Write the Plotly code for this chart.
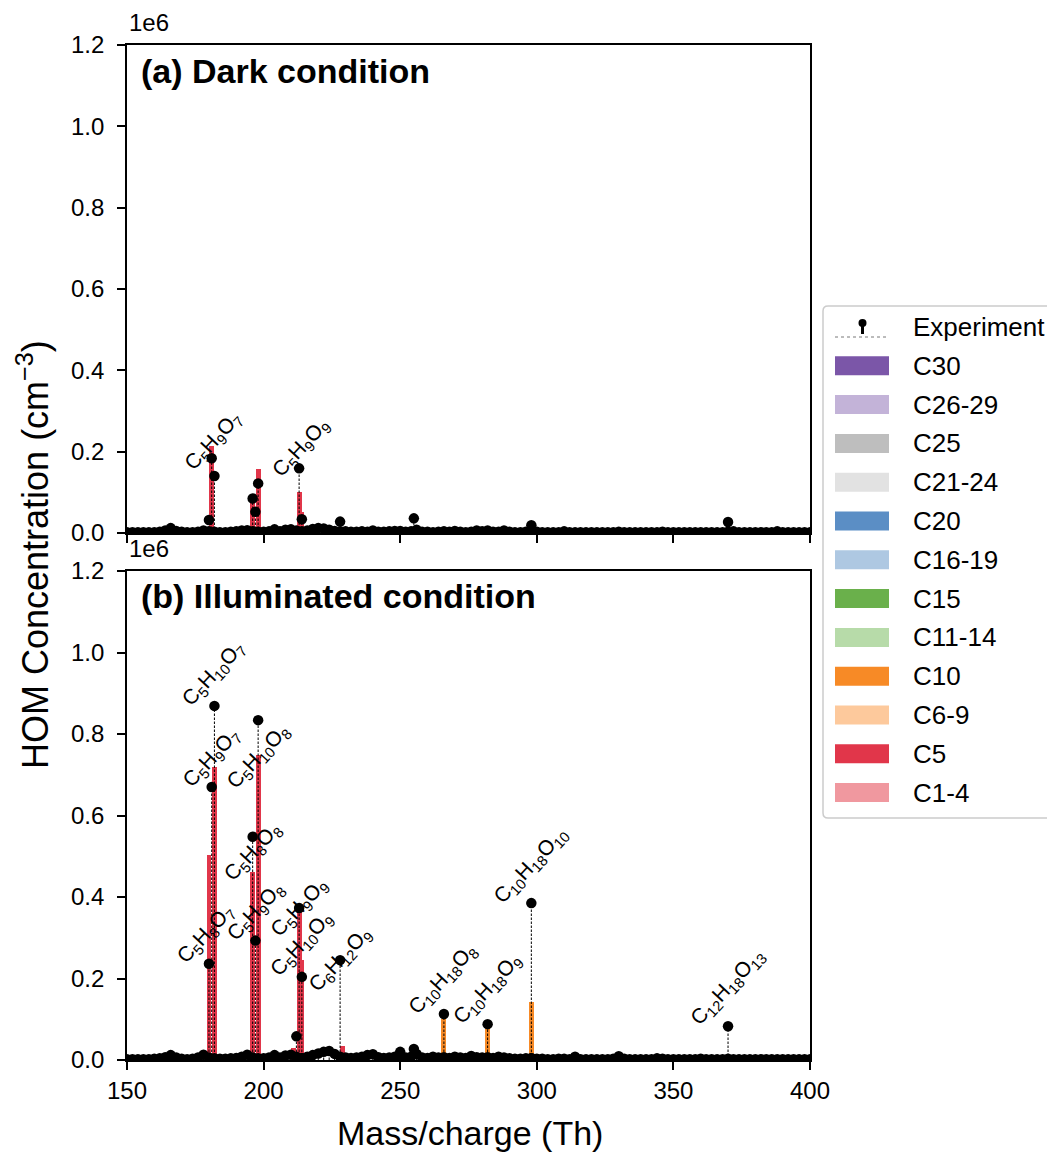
import plotly.graph_objects as go

# ---------------- data (concentrations in units of 1e6 cm^-3) ----------------
cat_names = ["C30", "C26-29", "C25", "C21-24", "C20", "C16-19", "C15",
             "C11-14", "C10", "C6-9", "C5", "C1-4"]
cat_colors = ["#7b56a8", "#c3b3d8", "#bebebe", "#e2e2e2", "#5b8ec5", "#aec8e2",
              "#6ab04b", "#b7dba9", "#f78a26", "#fdc99c", "#e1364a", "#f0989f"]

# model bars (per carbon class)
a_c5_mass = [181, 196, 198, 213, 214]
a_c5_val = [0.214, 0.088, 0.157, 0.100, 0.052]
b_c5_mass = [180, 182, 196, 198, 211, 213, 214, 216, 229]
b_c5_val = [0.503, 0.719, 0.462, 0.748, 0.030, 0.373, 0.245, 0.020, 0.035]
b_c10_mass = [266, 282, 298]
b_c10_val = [0.100, 0.075, 0.142]

# experiment: main peaks
a_pk_mass = [180, 181, 182, 196, 197, 198, 213, 214, 228, 255, 298, 370]
a_pk_val = [0.032, 0.184, 0.140, 0.085, 0.052, 0.122, 0.159, 0.034, 0.028, 0.036, 0.019, 0.027]
b_pk_mass = [180, 181, 182, 196, 197, 198, 212, 213, 214, 228, 250, 255, 266, 282, 298, 370]
b_pk_val = [0.236, 0.670, 0.869, 0.548, 0.293, 0.834, 0.058, 0.373, 0.204, 0.245, 0.020,
            0.027, 0.113, 0.088, 0.385, 0.083]

# experiment: background peaks
bg_mass = [150, 152, 154, 156, 158, 160, 162, 164, 166, 168,
           170, 172, 174, 176, 178, 180, 182, 184, 186, 188,
           190, 192, 194, 196, 198, 200, 202, 204, 206, 208,
           210, 212, 214, 216, 218, 220, 222, 224, 226, 228,
           230, 232, 234, 236, 238, 240, 242, 244, 246, 248,
           250, 252, 254, 256, 258, 260, 262, 264, 266, 268,
           270, 272, 274, 276, 278, 280, 282, 284, 286, 288,
           290, 292, 294, 296, 298, 300, 302, 304, 306, 308,
           310, 312, 314, 316, 318, 320, 322, 324, 326, 328,
           330, 332, 334, 336, 338, 340, 342, 344, 346, 348,
           350, 352, 354, 356, 358, 360, 362, 364, 366, 368,
           370, 372, 374, 376, 378, 380, 382, 384, 386, 388,
           390, 392, 394, 396, 398, 400]
a_bg_val = [0.002, 0.002, 0.002, 0.002, 0.002, 0.002, 0.003, 0.006, 0.012, 0.005,
            0.003, 0.002, 0.002, 0.003, 0.006, 0.004, 0.003, 0.002, 0.002, 0.003,
            0.004, 0.006, 0.007, 0.004, 0.003, 0.003, 0.004, 0.009, 0.004, 0.008,
            0.009, 0.006, 0.004, 0.006, 0.010, 0.012, 0.011, 0.008, 0.005, 0.004,
            0.004, 0.003, 0.003, 0.004, 0.003, 0.006, 0.003, 0.003, 0.004, 0.005,
            0.005, 0.003, 0.004, 0.008, 0.003, 0.003, 0.002, 0.003, 0.004, 0.003,
            0.005, 0.003, 0.002, 0.003, 0.006, 0.004, 0.006, 0.003, 0.003, 0.006,
            0.003, 0.002, 0.002, 0.003, 0.004, 0.003, 0.002, 0.002, 0.002, 0.002,
            0.004, 0.002, 0.002, 0.002, 0.002, 0.002, 0.002, 0.002, 0.002, 0.002,
            0.003, 0.002, 0.002, 0.002, 0.002, 0.002, 0.002, 0.002, 0.003, 0.002,
            0.002, 0.002, 0.002, 0.002, 0.002, 0.002, 0.002, 0.002, 0.002, 0.002,
            0.003, 0.004, 0.002, 0.002, 0.002, 0.002, 0.002, 0.002, 0.002, 0.004,
            0.002, 0.002, 0.002, 0.002, 0.002, 0.002]
b_bg_val = [0.002, 0.002, 0.002, 0.002, 0.002, 0.003, 0.004, 0.007, 0.012, 0.006,
            0.003, 0.002, 0.003, 0.006, 0.013, 0.006, 0.004, 0.003, 0.003, 0.004,
            0.005, 0.008, 0.013, 0.006, 0.004, 0.004, 0.006, 0.012, 0.006, 0.011,
            0.013, 0.008, 0.005, 0.008, 0.012, 0.016, 0.020, 0.022, 0.015, 0.008,
            0.006, 0.005, 0.006, 0.008, 0.012, 0.014, 0.007, 0.005, 0.006, 0.008,
            0.010, 0.006, 0.008, 0.015, 0.006, 0.005, 0.008, 0.006, 0.007, 0.005,
            0.008, 0.006, 0.005, 0.010, 0.007, 0.006, 0.007, 0.005, 0.008, 0.006,
            0.004, 0.003, 0.003, 0.004, 0.005, 0.003, 0.003, 0.002, 0.002, 0.003,
            0.003, 0.002, 0.008, 0.002, 0.002, 0.002, 0.002, 0.002, 0.002, 0.003,
            0.009, 0.003, 0.002, 0.002, 0.002, 0.002, 0.002, 0.004, 0.003, 0.002,
            0.002, 0.002, 0.002, 0.002, 0.002, 0.003, 0.002, 0.002, 0.002, 0.002,
            0.003, 0.002, 0.002, 0.002, 0.002, 0.002, 0.002, 0.002, 0.002, 0.002,
            0.002, 0.002, 0.002, 0.002, 0.002, 0.002]

# peak labels
a_lab_text = ["C<sub>5</sub>H<sub>9</sub>O<sub>7</sub>", "C<sub>5</sub>H<sub>9</sub>O<sub>9</sub>"]
a_lab_mass = [181, 213]
a_lab_val = [0.184, 0.159]
b_lab_text = ["C<sub>5</sub>H<sub>8</sub>O<sub>7</sub>", "C<sub>5</sub>H<sub>9</sub>O<sub>7</sub>",
              "C<sub>5</sub>H<sub>10</sub>O<sub>7</sub>", "C<sub>5</sub>H<sub>8</sub>O<sub>8</sub>",
              "C<sub>5</sub>H<sub>9</sub>O<sub>8</sub>", "C<sub>5</sub>H<sub>10</sub>O<sub>8</sub>",
              "C<sub>5</sub>H<sub>9</sub>O<sub>9</sub>", "C<sub>5</sub>H<sub>10</sub>O<sub>9</sub>",
              "C<sub>6</sub>H<sub>12</sub>O<sub>9</sub>", "C<sub>10</sub>H<sub>18</sub>O<sub>8</sub>",
              "C<sub>10</sub>H<sub>18</sub>O<sub>9</sub>", "C<sub>10</sub>H<sub>18</sub>O<sub>10</sub>",
              "C<sub>12</sub>H<sub>18</sub>O<sub>13</sub>"]
b_lab_mass = [180, 181, 182, 196, 197, 198, 213, 214, 228, 266, 282, 298, 370]
b_lab_val = [0.236, 0.670, 0.869, 0.548, 0.293, 0.834, 0.373, 0.204, 0.245, 0.113, 0.088, 0.385, 0.083]

ytick_vals = [0.0, 0.2, 0.4, 0.6, 0.8, 1.0, 1.2]
ytick_text = ["0.0", "0.2", "0.4", "0.6", "0.8", "1.0", "1.2"]
xtick_vals = [150, 200, 250, 300, 350, 400]

# ---------------- layout geometry (pixels of the target page) ----------------
W, H = 1055, 1153
OFF = 8            # default page body margin
L, R, T, B = 127, 810, 45, 1060
A_BOT, B_TOP = 533, 571
a_lab_shift = [(2, 17), (2, 20)]
b_lab_shift = [(-3, 30), (0, 29), (-1, 32), (0, -15), (0, 29), (0, -37), (0, 0),
               (0, 33), (0, 0), (-1, 35), (0, 35), (0, 38), (0, 39)]

def pxx(x):
    return (x - L) / (R - L)

def pxy(y):
    return (B - y) / (B - T)

FONT = "Liberation Sans, Arial, Helvetica, sans-serif"
fig = go.Figure()

def add_panel(xa, ya, bars, pk_m, pk_v, bg_v):
    for name, color in zip(cat_names, cat_colors):
        if name in bars:
            m, v = bars[name]
            fig.add_trace(go.Bar(x=m, y=v, width=1.8, marker=dict(color=color, line=dict(width=0)),
                                 xaxis=xa, yaxis=ya, showlegend=False, name=name))
    all_m = bg_mass + pk_m
    all_v = bg_v + pk_v
    sx, sy = [], []
    for m, v in zip(all_m, all_v):
        sx += [m, m, None]
        sy += [0, v, None]
    fig.add_trace(go.Scatter(x=sx, y=sy, mode="lines", xaxis=xa, yaxis=ya, showlegend=False,
                             line=dict(color="black", width=1, dash="2.5px,1.5px"), hoverinfo="skip"))
    fig.add_trace(go.Scatter(x=all_m, y=all_v, mode="markers", xaxis=xa, yaxis=ya, showlegend=False,
                             marker=dict(color="black", size=10.5), name="Experiment"))

add_panel("x", "y", {"C5": (a_c5_mass, a_c5_val)}, a_pk_mass, a_pk_val, a_bg_val)
add_panel("x2", "y2", {"C5": (b_c5_mass, b_c5_val), "C10": (b_c10_mass, b_c10_val)},
          b_pk_mass, b_pk_val, b_bg_val)

axis_common = dict(showline=True, linecolor="black", linewidth=1.8, mirror=True,
                   ticks="outside", ticklen=8, tickwidth=1.6, tickcolor="black",
                   showgrid=False, zeroline=False,
                   tickfont=dict(family=FONT, size=24, color="black"))

annotations = []
for texts, masses, vals, shifts, xr, yr in [
        (a_lab_text, a_lab_mass, a_lab_val, a_lab_shift, "x", "y"),
        (b_lab_text, b_lab_mass, b_lab_val, b_lab_shift, "x2", "y2")]:
    for t, m, v, (dx, dy) in zip(texts, masses, vals, shifts):
        annotations.append(dict(text=t, x=m, y=v, xref=xr, yref=yr, showarrow=False,
                                textangle=-47, xanchor="center", yanchor="middle",
                                xshift=dx, yshift=dy,
                                font=dict(family=FONT, size=21, color="black")))

annotations += [
    dict(text="<b>(a) Dark condition</b>", x=pxx(139), y=pxy(71), xref="paper", yref="paper",
         showarrow=False, xanchor="left", yanchor="middle", font=dict(family=FONT, size=34, color="black")),
    dict(text="<b>(b) Illuminated condition</b>", x=pxx(139), y=pxy(596), xref="paper", yref="paper",
         showarrow=False, xanchor="left", yanchor="middle", font=dict(family=FONT, size=34, color="black")),
    dict(text="1e6", x=pxx(127), y=pxy(23), xref="paper", yref="paper", showarrow=False,
         xanchor="left", yanchor="middle", font=dict(family=FONT, size=24, color="black")),
    dict(text="1e6", x=pxx(127), y=pxy(548), xref="paper", yref="paper", showarrow=False,
         xanchor="left", yanchor="middle", font=dict(family=FONT, size=24, color="black")),
    dict(text="HOM Concentration (cm<sup>\u22123</sup>)", x=pxx(33), y=pxy(555), xref="paper", yref="paper",
         showarrow=False, textangle=-90, xanchor="center", yanchor="middle",
         font=dict(family=FONT, size=36, color="black")),
    dict(text="Mass/charge (Th)", x=pxx(470), y=pxy(1133), xref="paper", yref="paper",
         showarrow=False, xanchor="center", yanchor="middle", font=dict(family=FONT, size=34, color="black")),
]

# ---------------- legend (drawn) ----------------
shapes = []
LX0, LX1, LY0, LY1, RAD = 823, 1075, 306, 818, 5
path = (f"M{pxx(LX0 + RAD)},{pxy(LY0)} L{pxx(LX1)},{pxy(LY0)} L{pxx(LX1)},{pxy(LY1)} "
        f"L{pxx(LX0 + RAD)},{pxy(LY1)} Q{pxx(LX0)},{pxy(LY1)} {pxx(LX0)},{pxy(LY1 - RAD)} "
        f"L{pxx(LX0)},{pxy(LY0 + RAD)} Q{pxx(LX0)},{pxy(LY0)} {pxx(LX0 + RAD)},{pxy(LY0)} Z")
shapes.append(dict(type="path", path=path, xref="paper", yref="paper",
                   line=dict(color="#cccccc", width=1.5), fillcolor="rgba(255,255,255,0.9)", layer="above"))
row0, step = 327, 38.8
SW0, SW1, TX = 835, 889, 911
shapes.append(dict(type="line", x0=pxx(SW0), x1=pxx(SW1), y0=pxy(row0 + 10), y1=pxy(row0 + 10),
                   xref="paper", yref="paper", line=dict(color="#555555", width=0.8, dash="dot"), layer="above"))
shapes.append(dict(type="line", x0=pxx(862.5), x1=pxx(862.5), y0=pxy(row0 - 4), y1=pxy(row0 + 7),
                   xref="paper", yref="paper", line=dict(color="black", width=3), layer="above"))
shapes.append(dict(type="circle", x0=pxx(858.5), x1=pxx(866.5), y0=pxy(row0 - 8), y1=pxy(row0),
                   xref="paper", yref="paper", line=dict(color="black", width=0), fillcolor="black", layer="above"))
annotations.append(dict(text="Experiment", x=pxx(TX), y=pxy(row0), xref="paper", yref="paper", showarrow=False,
                        xanchor="left", yanchor="middle", font=dict(family=FONT, size=26, color="black")))
for i, (name, color) in enumerate(zip(cat_names, cat_colors)):
    cy = row0 + step * (i + 1)
    shapes.append(dict(type="rect", x0=pxx(SW0), x1=pxx(SW1), y0=pxy(cy - 9.5), y1=pxy(cy + 9.5),
                       xref="paper", yref="paper", line=dict(width=0), fillcolor=color, layer="above"))
    annotations.append(dict(text=name, x=pxx(TX), y=pxy(cy), xref="paper", yref="paper", showarrow=False,
                            xanchor="left", yanchor="middle", font=dict(family=FONT, size=26, color="black")))

fig.update_layout(
    width=W - OFF, height=H - OFF,
    margin=dict(l=L - OFF, r=W - R, t=T - OFF, b=H - B, pad=0),
    paper_bgcolor="white", plot_bgcolor="white", barmode="stack", bargap=0,
    showlegend=False,
    xaxis=dict(domain=[0, 1], anchor="y", range=[150, 400], tickvals=xtick_vals,
               showticklabels=False, **axis_common),
    yaxis=dict(domain=[pxy(A_BOT), 1], anchor="x", range=[0, 1.2], tickvals=ytick_vals,
               ticktext=ytick_text, ticklabelstandoff=8, **axis_common),
    xaxis2=dict(domain=[0, 1], anchor="y2", range=[150, 400], tickvals=xtick_vals, **axis_common),
    yaxis2=dict(domain=[0, pxy(B_TOP)], anchor="x2", range=[0, 1.2], tickvals=ytick_vals,
                ticktext=ytick_text, ticklabelstandoff=8, **axis_common),
    annotations=annotations, shapes=shapes,
)

fig.write_html("out.html")
